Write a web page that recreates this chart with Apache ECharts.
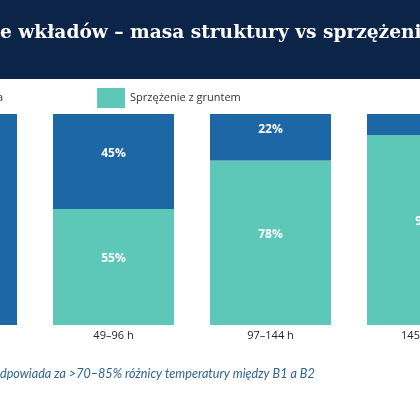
<!DOCTYPE html>
<html>
<head>
<meta charset="utf-8" />
<title>wkłady</title>
<script src="https://cdn.jsdelivr.net/npm/echarts@6/dist/echarts.min.js"></script>
<style>
  html, body { margin: 0; padding: 0; width: 420px; height: 420px; overflow: hidden; background: #fff; }
  #wrap { position: relative; width: 420px; height: 420px; overflow: hidden; }
  /* wykres jest szerszy niż okno, widoczny jest tylko wycinek */
  #main { position: absolute; left: -200px; top: 0; width: 820px; height: 420px; }
</style>
</head>
<body>
<div id="wrap"><div id="main"></div></div>
<script>
  // dane
  var categories = ['0–48 h', '49–96 h', '97–144 h', '145–192 h'];
  var masaStruktury = [100, 45, 22, 10];
  var sprzezenie = [0, 55, 78, 90];
  var seriesNames = ['Masa termiczna', 'Sprzężenie z gruntem'];

  var tytul = 'Porównanie wkładów – masa struktury vs sprzężenie z gruntem';
  var przypis = 'Sprzężenie z gruntem odpowiada za >70–85% różnicy temperatury między B1 a B2';

  var fontTytul = 'bold 18.6px "DejaVu Serif", serif';
  var fontPrzypis = 'italic 12.6px Lato, sans-serif';

  // szerokość ukrytych początków tekstów (poza lewą krawędzią)
  var ctx = document.createElement('canvas').getContext('2d');
  ctx.font = fontTytul;
  var przesuniecie = ctx.measureText('Porównani').width;
  ctx.font = fontPrzypis;
  var przesunieciePrzypis = ctx.measureText('Sprzężenie z gruntem o').width;

  var chart = echarts.init(document.getElementById('main'));

  // małe odcinki bez etykiety
  function etykieta(v) {
    return v > 12 ? v + '%' : '';
  }

  chart.setOption({
    animation: false,
    graphic: [
      {
        type: 'rect',
        left: 0, top: 0,
        shape: { width: 820, height: 79 },
        style: { fill: '#0b2447' },
        z: 0
      },
      {
        type: 'text',
        z: 1,
        style: {
          text: tytul,
          x: 200 - przesuniecie,
          y: 33,
          textAlign: 'left',
          textVerticalAlign: 'middle',
          fill: '#ffffff',
          font: fontTytul
        }
      },
      {
        type: 'text',
        z: 1,
        style: {
          text: przypis,
          x: 200 - przesunieciePrzypis,
          y: 374,
          textAlign: 'left',
          textVerticalAlign: 'middle',
          fill: '#2f6392',
          font: fontPrzypis
        }
      }
    ],
    legend: {
      data: seriesNames,
      left: 89,
      top: 88,
      padding: 0,
      icon: 'rect',
      itemWidth: 28,
      itemHeight: 20,
      itemGap: 94,
      textStyle: { color: '#333', fontSize: 11, fontFamily: '"Open Sans", sans-serif' }
    },
    grid: { left: 78, width: 628, top: 114, height: 211 },
    xAxis: {
      type: 'category',
      data: categories,
      axisLine: { show: false },
      axisTick: { show: false },
      axisLabel: { color: '#222', fontSize: 11, margin: 5, fontFamily: '"Open Sans", sans-serif' }
    },
    yAxis: { type: 'value', min: 0, max: 100, show: false },
    series: [
      {
        name: seriesNames[1],
        type: 'bar',
        stack: 'a',
        barWidth: 121,
        data: sprzezenie,
        itemStyle: { color: '#5ec8b8' },
        label: {
          show: true, position: 'inside', offset: [0, -8],
          color: '#fff', fontWeight: 'bold', fontSize: 12,
          fontFamily: '"Open Sans", sans-serif',
          formatter: function (p) { return etykieta(p.value); }
        }
      },
      {
        name: seriesNames[0],
        type: 'bar',
        stack: 'a',
        barWidth: 121,
        data: masaStruktury,
        itemStyle: { color: '#1e67a6' },
        label: {
          show: true, position: 'inside', offset: [0, -8],
          color: '#fff', fontWeight: 'bold', fontSize: 12,
          fontFamily: '"Open Sans", sans-serif',
          formatter: function (p) { return etykieta(p.value); }
        }
      }
    ]
  });

  window.onresize = function () {
    chart.resize();
  };
</script>
</body>
</html>
